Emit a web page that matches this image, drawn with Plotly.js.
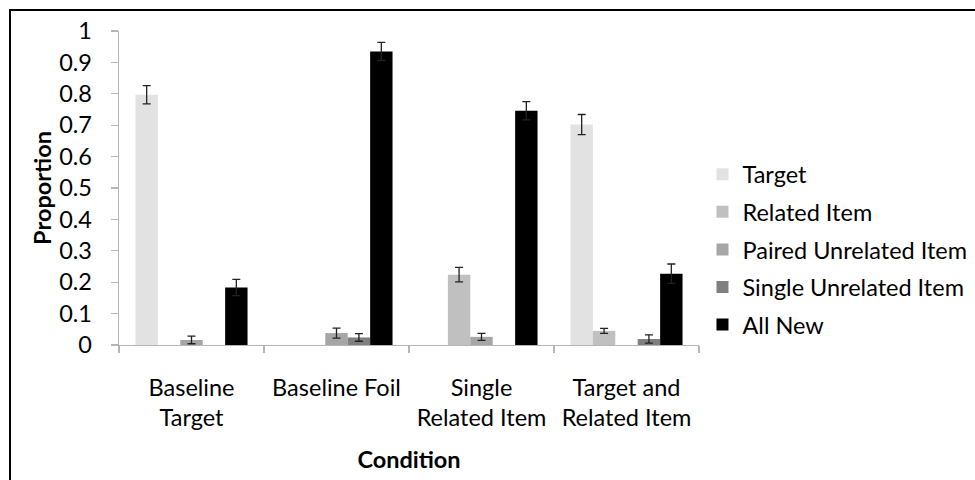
<!DOCTYPE html>
<html>
<head>
<meta charset="utf-8">
<script src="https://cdn.plot.ly/plotly-3.0.1.min.js"></script>
<style>
  html, body { margin: 0; padding: 0; background: #fff; }
  #wrap { position: relative; width: 975px; height: 480px; }
  #chart { width: 975px; height: 480px; }
  #frame { position: absolute; left: 9px; top: 9px; right: -5px; bottom: -5px;
           border-left: 2px solid #000; border-top: 2px solid #000; pointer-events: none; }
</style>
</head>
<body>
<div id="wrap"><div id="chart"></div><div id="frame"></div></div>
<script>
const categories = ["Baseline<br>Target", "Baseline Foil", "Single<br>Related Item", "Target and<br>Related Item"];
const seriesNames = ["Target", "Related Item", "Paired Unrelated Item", "Single Unrelated Item", "All New"];
const targetVals   = [0.797, null, null, 0.702];
const targetErr    = [0.029, null, null, 0.032];
const relatedVals  = [null, null, 0.224, 0.045];
const relatedErr   = [null, null, 0.023, 0.008];
const pairedVals   = [0.016, 0.038, 0.026, null];
const pairedErr    = [0.012, 0.016, 0.011, null];
const singleVals   = [null, 0.024, null, 0.019];
const singleErr    = [null, 0.012, null, 0.013];
const allNewVals   = [0.183, 0.935, 0.746, 0.227];
const allNewErr    = [0.026, 0.029, 0.029, 0.031];
const yTickVals    = [0, 0.1, 0.2, 0.3, 0.4, 0.5, 0.6, 0.7, 0.8, 0.9, 1];
const yTickText    = ["0", "0.1", "0.2", "0.3", "0.4", "0.5", "0.6", "0.7", "0.8", "0.9", "1"];

const colors = ["#e2e2e2", "#c0c0c0", "#a6a6a6", "#7f7f7f", "#000000"];
const vals = [targetVals, relatedVals, pairedVals, singleVals, allNewVals];
const errs = [targetErr, relatedErr, pairedErr, singleErr, allNewErr];

const FONT = "Lato, 'Open Sans', sans-serif";
const FS = 23.5;

const traces = seriesNames.map((name, i) => ({
  type: "bar",
  name: name,
  legendgroup: "g" + i,
  x: categories,
  y: vals[i],
  marker: { color: colors[i], line: { width: 0 } },
  error_y: { type: "data", array: errs[i].map(v => v === null ? 0 : v), visible: true,
             color: "#222", thickness: 1.3, width: 4 },
  hoverinfo: "none"
}));

const layout = {
  width: 975, height: 480,
  margin: { l: 119, r: 276, t: 31, b: 135, autoexpand: false },
  paper_bgcolor: "#fff", plot_bgcolor: "#fff",
  font: { family: FONT, size: FS, color: "#000" },
  barmode: "group",
  bargap: 0.227,
  bargroupgap: 0,
  showlegend: true,
  legend: {
    x: 1.006, xanchor: "left", y: 0.304, yanchor: "middle",
    traceorder: "grouped", tracegroupgap: 4,
    font: { family: FONT, size: FS, color: "#000" },
    bgcolor: "rgba(0,0,0,0)"
  },
  xaxis: {
    type: "category",
    showline: true, linecolor: "#b5b5b5", linewidth: 1.3,
    ticks: "outside", tickson: "boundaries", ticklen: 7, tickcolor: "#b5b5b5", tickwidth: 1.3,
    showgrid: false, zeroline: false, tickangle: 0,
    ticklabelstandoff: 21,
    tickfont: { family: FONT, size: FS, color: "#000" },
    title: { text: "<b>Condition</b>", font: { family: FONT, size: FS, color: "#000" }, standoff: 21 }
  },
  yaxis: {
    range: [0, 1],
    tickvals: yTickVals, ticktext: yTickText,
    showline: true, linecolor: "#b5b5b5", linewidth: 1.3,
    ticks: "outside", ticklen: 7, tickcolor: "#b5b5b5", tickwidth: 1.3,
    showgrid: false, zeroline: false,
    ticklabelstandoff: 14,
    tickfont: { family: FONT, size: FS, color: "#000" },
    title: { text: "<b>Proportion</b>", font: { family: FONT, size: FS, color: "#000" }, standoff: 1 }
  }
};

Plotly.newPlot("chart", traces, layout, { staticPlot: true, displayModeBar: false });
</script>
</body>
</html>
